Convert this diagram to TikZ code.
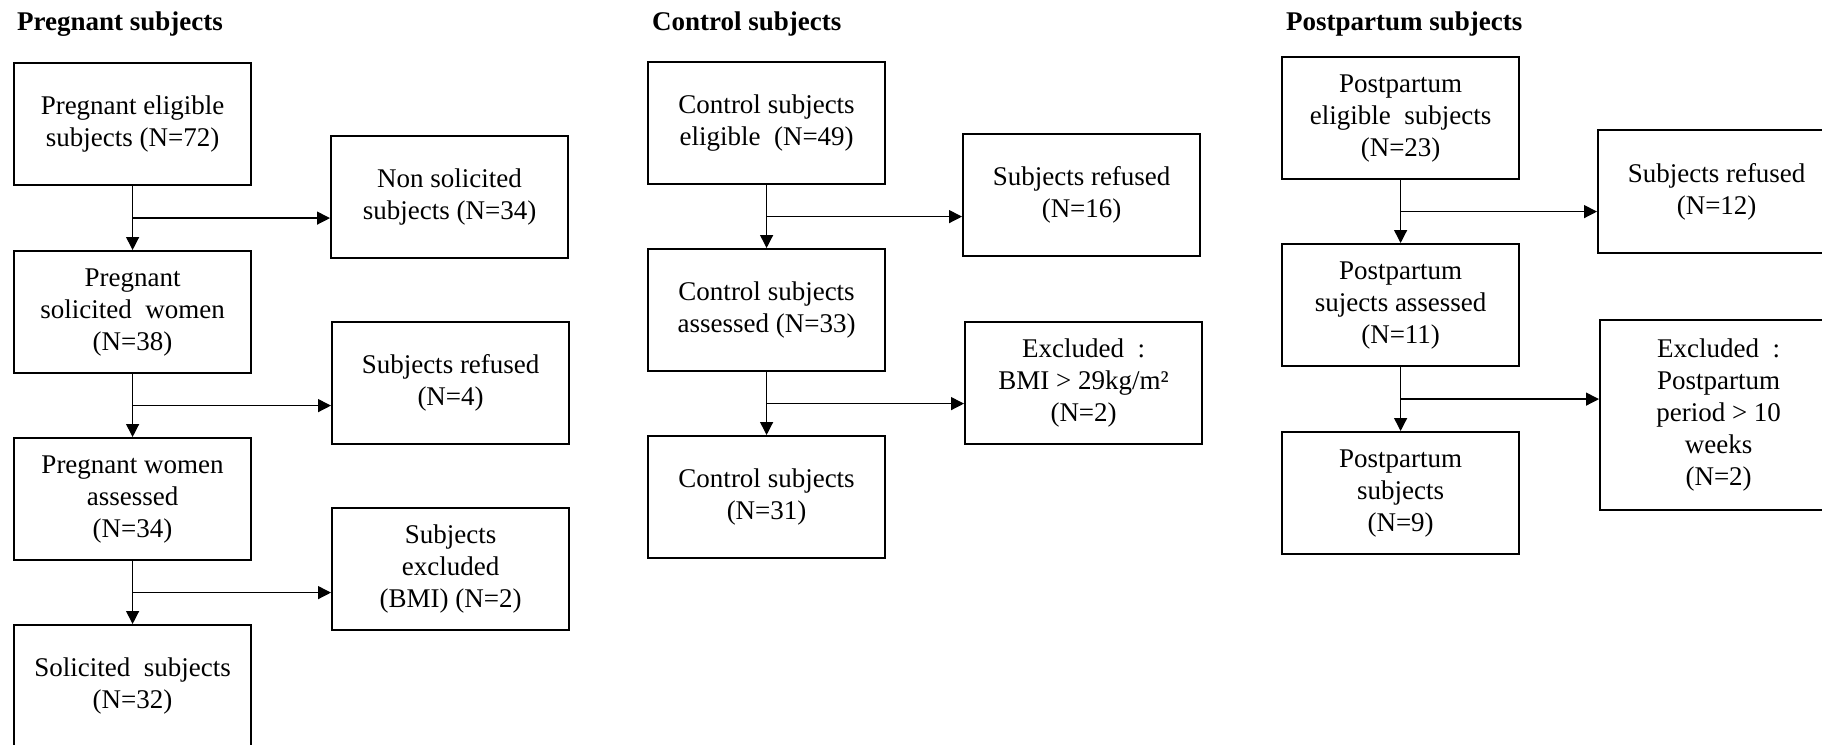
\documentclass[tikz,border=0pt]{standalone}
\usepackage{fontspec}
\setmainfont{Liberation Serif}
\usepackage{tikz}
\usetikzlibrary{arrows.meta}

\begin{document}
\begin{tikzpicture}[x=1pt, y=-1pt,
  stage/.style={draw, line width=2.2pt, anchor=north west, minimum width=237pt,
    minimum height=122pt, align=center, inner sep=0pt, font=\fontsize{27}{32}\selectfont},
  head/.style={anchor=base west, inner sep=0pt, font=\bfseries\fontsize{27}{32}\selectfont},
  flow/.style={line width=1.3pt, -{Triangle[length=13pt, width=13pt]}}]
  \clip (0,0) rectangle (1822,744);

  % pregnant column
  \node[head] (phead) at (17,30) {Pregnant subjects};
  \node[stage] (pe1) at (13,62) {Pregnant eligible\\subjects (N=72)};
  \node[stage] (pe2) at (13,250) {Pregnant\\solicited\ \ women\\(N=38)};
  \node[stage] (pe3) at (13,437) {Pregnant women\\assessed\\(N=34)};
  \node[stage] (pe4) at (13,624) {Solicited\ \ subjects\\(N=32)};
  \node[stage] (pr1) at (330,135) {Non solicited\\subjects (N=34)};
  \node[stage] (pr2) at (331,321) {Subjects refused\\(N=4)};
  \node[stage] (pr3) at (331,507) {Subjects\\excluded\\(BMI) (N=2)};
  \draw[flow] (pe1.south) -- coordinate[midway] (pm1) (pe2.north);
  \draw[flow] (pe2.south) -- coordinate[midway] (pm2) (pe3.north);
  \draw[flow] (pe3.south) -- coordinate[midway] (pm3) (pe4.north);
  \draw[flow] (pm1) -- (pm1 -| pr1.west);
  \draw[flow] (pm2) -- (pm2 -| pr2.west);
  \draw[flow] (pm3) -- (pm3 -| pr3.west);

  % control column
  \node[head] (chead) at (652,30) {Control subjects};
  \node[stage] (ce1) at (647,61) {Control subjects\\eligible\ \ (N=49)};
  \node[stage] (ce2) at (647,248) {Control subjects\\assessed (N=33)};
  \node[stage] (ce3) at (647,435) {Control subjects\\(N=31)};
  \node[stage] (cr1) at (962,133) {Subjects refused\\(N=16)};
  \node[stage] (cr2) at (964,321) {Excluded\ \ :\\BMI > 29kg/m²\\(N=2)};
  \draw[flow] (ce1.south) -- coordinate[midway] (cm1) (ce2.north);
  \draw[flow] (ce2.south) -- coordinate[midway] (cm2) (ce3.north);
  \draw[flow] (cm1) -- (cm1 -| cr1.west);
  \draw[flow] (cm2) -- (cm2 -| cr2.west);

  % postpartum column
  \node[head] (ohead) at (1286,30) {Postpartum subjects};
  \node[stage] (po1) at (1281,56) {Postpartum\\eligible\ \ subjects\\(N=23)};
  \node[stage] (po2) at (1281,243) {Postpartum\\sujects assessed\\(N=11)};
  \node[stage] (po3) at (1281,431) {Postpartum\\subjects\\(N=9)};
  \node[stage, minimum height=123pt] (or1) at (1597,129) {Subjects refused\\(N=12)};
  \node[stage, minimum height=190pt] (or2) at (1599,319) {Excluded\ \ :\\Postpartum\\period > 10\\weeks\\(N=2)};
  \draw[flow] (po1.south) -- coordinate[midway] (om1) (po2.north);
  \draw[flow] (po2.south) -- coordinate[midway] (om2) (po3.north);
  \draw[flow] (om1) -- (om1 -| or1.west);
  \draw[flow] (om2) -- (om2 -| or2.west);
\end{tikzpicture}
\end{document}
